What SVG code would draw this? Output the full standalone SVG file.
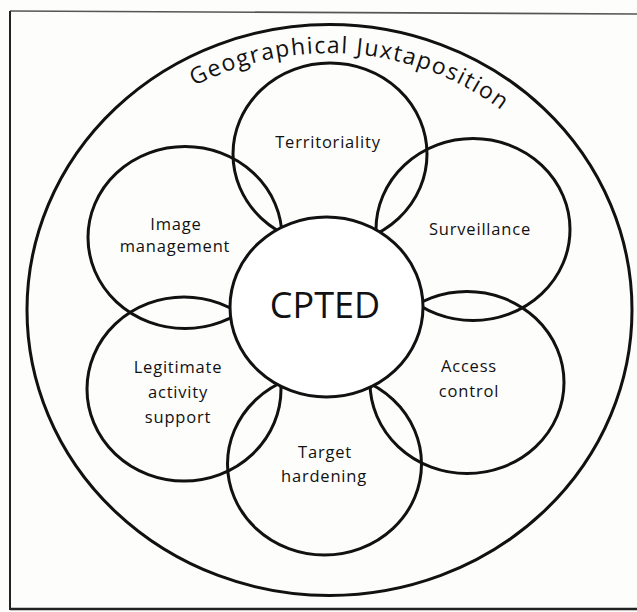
<svg xmlns="http://www.w3.org/2000/svg" width="637" height="612" viewBox="0 0 637 612">
  <style>
    .ring { fill: none; stroke: #111; stroke-width: 3; }
    .core { fill: #fff; stroke: #111; stroke-width: 3; }
    .label { font-family: "Open Sans", "Liberation Sans", sans-serif; font-size: 16.5px; fill: #111; text-anchor: middle; letter-spacing: 0.8px; }
    .title { font-family: "Open Sans", "Liberation Sans", sans-serif; font-size: 23px; fill: #111; letter-spacing: 0.5px; }
    .center { font-family: "Open Sans", "Liberation Sans", sans-serif; font-size: 36px; fill: #111; text-anchor: middle; }
  </style>
  <defs>
    <!-- baseline for the curved heading, concentric with the outer ellipse -->
    <path id="titleArc" d="M 55 310 A 274 257 0 0 1 603 310"/>
  </defs>

  <rect width="637" height="612" fill="#fdfdfc"/>

  <!-- page frame -->
  <g id="frame" stroke="#222" fill="none">
    <line x1="10" y1="11" x2="637" y2="14" stroke-width="1.6" stroke="#555"/>
    <line x1="10" y1="11" x2="10" y2="610" stroke-width="2"/>
    <line x1="10" y1="609" x2="637" y2="609" stroke-width="2.5"/>
  </g>

  <!-- outer boundary -->
  <g id="juxtaposition">
    <ellipse class="ring" cx="329.5" cy="310" rx="302.5" ry="285.5" stroke-width="3.2"/>
    <text class="title"><textPath href="#titleArc" startOffset="52.7%" text-anchor="middle" textLength="325" lengthAdjust="spacing">Geographical Juxtaposition</textPath></text>
  </g>

  <!-- surrounding strategy circles -->
  <g id="territoriality">
    <ellipse class="ring" cx="330" cy="154" rx="97" ry="91"/>
    <text class="label" x="328" y="148">Territoriality</text>
  </g>
  <g id="surveillance">
    <ellipse class="ring" cx="473" cy="229.5" rx="97" ry="91"/>
    <text class="label" x="480" y="235">Surveillance</text>
  </g>
  <g id="access-control">
    <ellipse class="ring" cx="467" cy="382.5" rx="97" ry="91"/>
    <text class="label" x="469" y="372">Access</text>
    <text class="label" x="469" y="397">control</text>
  </g>
  <g id="target-hardening">
    <ellipse class="ring" cx="324.5" cy="464" rx="97" ry="91"/>
    <text class="label" x="325" y="458">Target</text>
    <text class="label" x="324" y="482">hardening</text>
  </g>
  <g id="legitimate-activity-support">
    <ellipse class="ring" cx="184" cy="389" rx="97" ry="92"/>
    <text class="label" x="178" y="373">Legitimate</text>
    <text class="label" x="178" y="398">activity</text>
    <text class="label" x="178" y="423">support</text>
  </g>
  <g id="image-management">
    <ellipse class="ring" cx="185" cy="237.5" rx="97" ry="91"/>
    <text class="label" x="176" y="230">Image</text>
    <text class="label" x="175" y="252">management</text>
  </g>

  <!-- hub drawn last so it covers the inner arcs -->
  <g id="cpted">
    <ellipse class="core" cx="326.5" cy="307" rx="96.5" ry="90"/>
    <text class="center" x="325" y="318">CPTED</text>
  </g>

  <g id="connectors"/>
</svg>
